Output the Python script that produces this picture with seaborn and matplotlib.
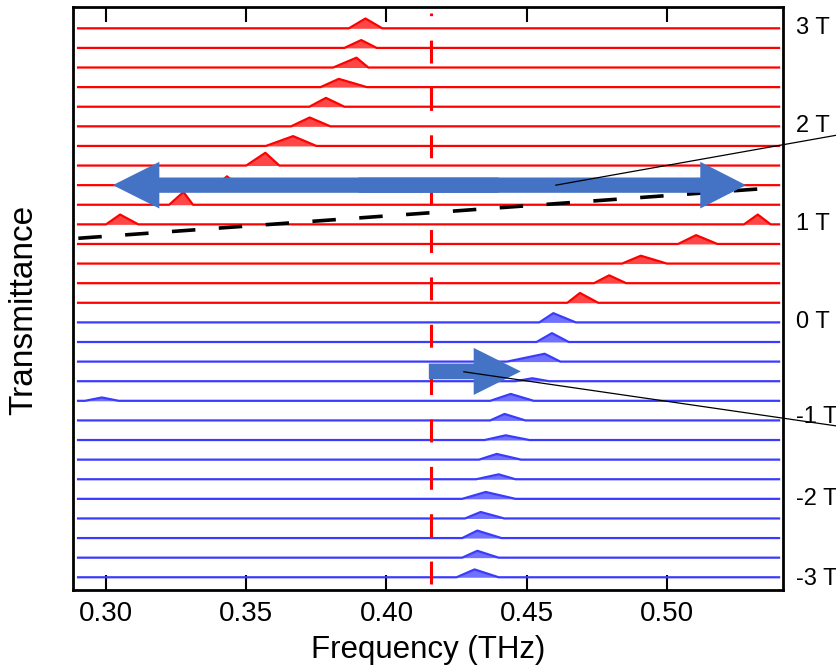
import numpy as np
import pandas as pd
import seaborn as sns
import matplotlib.pyplot as plt
import matplotlib.patches as mpatches

# traces: 15 red (positive field, top) + 14 blue (negative field), offset by one unit each
n_red = 15
n_blue = 14
freq_start, freq_end = 0.29, 0.54

# absorption peaks (trace index, centre, left foot, right foot, height)
peak_trace = [0, 1, 2, 3, 4, 5, 6, 7, 8, 9, 10, 10, 11, 12, 13, 14,
              15, 16, 17, 18, 19, 19, 20, 21, 22, 23, 24, 25, 26, 27, 28]
peak_center = [0.3925, 0.391, 0.3893, 0.383, 0.3784, 0.3726, 0.3667, 0.3568, 0.3431, 0.3276,
               0.305, 0.5324, 0.5104, 0.4907, 0.4794, 0.469,
               0.4595, 0.459, 0.4564, 0.452, 0.4443, 0.2985, 0.4421, 0.4425, 0.4393, 0.44,
               0.4354, 0.4336, 0.4324, 0.4324, 0.4314]
peak_left = [0.3866, 0.385, 0.381, 0.3765, 0.3725, 0.366, 0.357, 0.350, 0.3395, 0.3225,
             0.300, 0.5275, 0.504, 0.484, 0.474, 0.4645,
             0.4545, 0.4535, 0.443, 0.446, 0.437, 0.2925, 0.437, 0.435, 0.433, 0.432,
             0.427, 0.428, 0.427, 0.427, 0.425]
peak_right = [0.3985, 0.3965, 0.3935, 0.393, 0.385, 0.380, 0.375, 0.3618, 0.347, 0.331,
              0.3115, 0.537, 0.518, 0.500, 0.4855, 0.4755,
              0.4675, 0.465, 0.462, 0.458, 0.4525, 0.3045, 0.4495, 0.451, 0.448, 0.446,
              0.446, 0.442, 0.441, 0.440, 0.440]
peak_height = [0.5, 0.4, 0.5, 0.42, 0.45, 0.45, 0.5, 0.65, 0.45, 0.65,
               0.5, 0.5, 0.45, 0.4, 0.4, 0.5,
               0.47, 0.45, 0.4, 0.15, 0.35, 0.17, 0.33, 0.24, 0.29, 0.25,
               0.35, 0.33, 0.38, 0.35, 0.4]

field_labels = ["3 T", "2 T", "1 T", "0 T", "-1 T", "-2 T", "-3 T"]
field_label_y = [0, -5, -10, -15, -19.8, -24, -28.1]

red = "#ff0000"
blue = "#3b3bff"
arrow_blue = "#4472c4"

# build long table of trace vertices
rows = []
for i in range(n_red + n_blue):
    pts = [(freq_start, 0.0), (freq_end, 0.0)]
    for k, t in enumerate(peak_trace):
        if t == i:
            pts += [(peak_left[k], 0.0), (peak_center[k], peak_height[k]), (peak_right[k], 0.0)]
    pts.sort()
    for x, h in pts:
        rows.append({"freq": x, "signal": h - i, "trace": i,
                     "group": "up" if i < n_red else "down", "base": -i})
df = pd.DataFrame(rows)

plt.rcParams["font.family"] = ["Liberation Sans", "DejaVu Sans"]
fig = plt.figure(figsize=(8.36, 6.72), dpi=100)
ax = fig.add_axes([0.0873, 0.122, 0.8493, 0.8676])

for i, g in df.groupby("trace"):
    c = red if i < n_red else blue
    ax.fill_between(g["freq"], g["base"], g["signal"], color=c, alpha=0.72, lw=0)

sns.lineplot(data=df, x="freq", y="signal", units="trace", hue="group", estimator=None,
             palette={"up": red, "down": blue}, sort=False, legend=False, lw=1.6, ax=ax)

# red dashed reference frequency
ax.axvline(0.416, ymin=0.01, ymax=0.99, color=red, lw=2.2, ls=(0, (7.5, 8)))

# black dashed guide line
ax.plot([0.2901, 0.536], [-10.71, -8.16], color="black", lw=2.6, ls=(0, (6.5, 6.5)))

# big double arrow (two overlapping halves)
ax.add_patch(mpatches.FancyArrow(0.44, -8, 0.3024 - 0.44, 0, width=0.78, head_width=2.38,
                                 head_length=0.0166, length_includes_head=True,
                                 color=arrow_blue, lw=0, zorder=5))
ax.add_patch(mpatches.FancyArrow(0.39, -8, 0.5282 - 0.39, 0, width=0.78, head_width=2.38,
                                 head_length=0.0163, length_includes_head=True,
                                 color=arrow_blue, lw=0, zorder=5))
# small arrow
ax.add_patch(mpatches.FancyArrow(0.4151, -17.5, 0.4479 - 0.4151, 0, width=0.8, head_width=2.4,
                                 head_length=0.0168, length_includes_head=True,
                                 color=arrow_blue, lw=0, zorder=5))

# leader lines going off the figure
ax.plot([0.4604, 0.5657], [-8.0, -5.32], color="black", lw=0.9, clip_on=False, zorder=6)
ax.plot([0.4276, 0.5657], [-17.52, -20.39], color="black", lw=0.9, clip_on=False, zorder=6)

for lab, y in zip(field_labels, field_label_y):
    ax.text(0.546, y, lab, fontsize=17, ha="left", va="center", clip_on=False)

ax.set_xlim(0.2882, 0.5414)
ax.set_ylim(-28.65, 1.087)
ax.set_xticks([0.30, 0.35, 0.40, 0.45, 0.50])
ax.set_xticklabels(["0.30", "0.35", "0.40", "0.45", "0.50"])
ax.set_yticks([])
ax.tick_params(axis="x", direction="in", top=True, length=11, width=1.5, labelsize=20, pad=8)
for s in ax.spines.values():
    s.set_linewidth(2)
ax.set_xlabel("Frequency (THz)", fontsize=22.5, labelpad=6)
ax.set_ylabel("Transmittance", fontsize=24)
ax.yaxis.set_label_coords(-0.047, 0.48)

fig.savefig("out.png", dpi=100)
